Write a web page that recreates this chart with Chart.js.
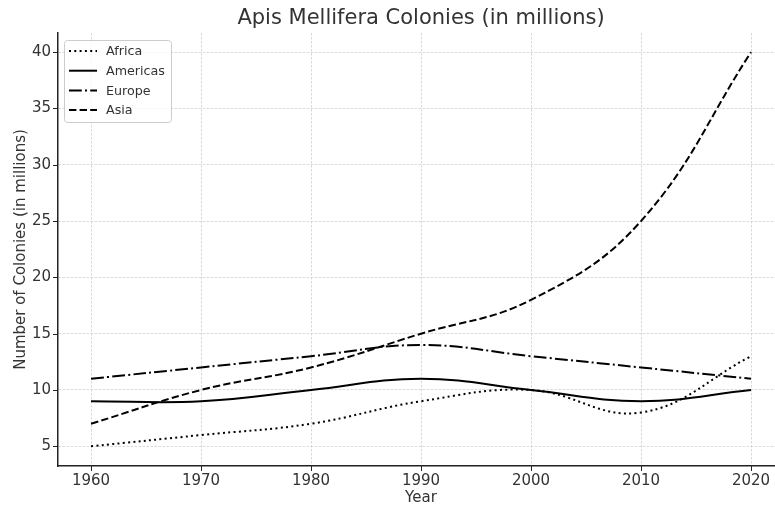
<!DOCTYPE html>
<html>
<head>
<meta charset="utf-8">
<script src="https://cdn.jsdelivr.net/npm/chart.js@4"></script>
<style>
  html, body { margin: 0; padding: 0; background: #fff; overflow: hidden; }
  #wrap { width: 786px; height: 506px; }
</style>
</head>
<body>
<div id="wrap"><canvas id="beeChart" width="786" height="506"></canvas></div>
<script>
var years = [1960, 1970, 1980, 1990, 2000, 2010, 2020];
var africa = [5, 6, 7, 9, 10, 8, 13];
var americas = [9, 9, 10, 11, 10, 9, 10];
var europe = [11, 12, 13, 14, 13, 12, 11];
var asia = [7, 10, 12, 15, 18, 25, 40];
var xTicks = [1960, 1970, 1980, 1990, 2000, 2010, 2020];
var yTicks = [5, 10, 15, 20, 25, 30, 35, 40];

var FONT = "'DejaVu Sans', sans-serif";

function pts(vals) {
    return years.map(function (y, i) { return {x: y, y: vals[i]}; });
}

function series(label, vals, dash) {
    return {
        label: label,
        data: pts(vals),
        borderColor: "#000",
        borderWidth: 2,
        borderDash: dash,
        pointRadius: 0,
        fill: false,
        tension: 0.4
    };
}

// title, solid tick marks and the in-plot legend box
var decor = {
    id: 'decor',
    afterDraw: function (chart) {
        var c = chart.ctx, a = chart.chartArea;
        var sx = chart.scales.x, sy = chart.scales.y;
        c.save();
        c.fillStyle = "#333";
        c.font = "21px " + FONT;
        c.textAlign = "center";
        c.textBaseline = "middle";
        c.fillText("Apis Mellifera Colonies (in millions)", (a.left + a.right) / 2, 19);

        c.strokeStyle = "#222";
        c.lineWidth = 1;
        c.beginPath();
        xTicks.forEach(function (v) {
            var px = Math.round(sx.getPixelForValue(v)) + 0.5;
            c.moveTo(px, a.bottom);
            c.lineTo(px, a.bottom + 5);
        });
        yTicks.forEach(function (v) {
            var py = Math.round(sy.getPixelForValue(v)) + 0.5;
            c.moveTo(a.left, py);
            c.lineTo(a.left - 5, py);
        });
        c.stroke();

        var bx = 64.5, by = 40.5, bw = 107, bh = 82;
        c.beginPath();
        c.roundRect(bx, by, bw, bh, 3);
        c.fillStyle = "rgba(255,255,255,0.8)";
        c.fill();
        c.strokeStyle = "#ccc";
        c.lineWidth = 1;
        c.stroke();

        c.font = "12.7px " + FONT;
        c.textAlign = "left";
        chart.data.datasets.forEach(function (ds, i) {
            var ly = 51 + i * 19.7;
            c.beginPath();
            c.setLineDash(ds.borderDash || []);
            c.strokeStyle = "#000";
            c.lineWidth = 2;
            c.moveTo(69, ly);
            c.lineTo(97, ly);
            c.stroke();
            c.setLineDash([]);
            c.fillStyle = "#333";
            c.fillText(ds.label, 106, ly + 1);
        });
        c.restore();
    }
};

var gridOpts = { color: "#cfcfcf", lineWidth: 0.8, tickLength: 5, tickColor: "rgba(0,0,0,0)" };

var ctx = document.getElementById('beeChart').getContext('2d');
var myChart = new Chart(ctx, {
    type: 'line',
    data: {
        datasets: [
            series("Africa", africa, [2, 3.3]),
            series("Americas", americas, []),
            series("Europe", europe, [12.8, 3.2, 2, 3.2]),
            series("Asia", asia, [7.4, 3.2])
        ]
    },
    options: {
        responsive: false,
        animation: false,
        layout: { padding: { top: 33, right: 2, left: 0, bottom: 0 } },
        plugins: {
            legend: { display: false },
            title: { display: false },
            tooltip: { enabled: false }
        },
        scales: {
            x: {
                type: 'linear',
                min: 1957,
                max: 2023,
                afterFit: function (s) { s.height = 40; },
                afterBuildTicks: function (s) { s.ticks = xTicks.map(function (v) { return {value: v}; }); },
                grid: gridOpts,
                border: { color: "#222", width: 1.5, dash: [2.5, 1.5] },
                ticks: { color: "#333", font: { family: FONT, size: 15 }, padding: 1, maxRotation: 0,
                         callback: function (v) { return String(v); } },
                title: { display: true, text: "Year", color: "#333",
                         font: { family: FONT, size: 15, lineHeight: 1.0 },
                         padding: { top: 0, bottom: 0 } }
            },
            y: {
                min: 3.25,
                max: 41.7,
                afterFit: function (s) { s.width = 58; },
                afterBuildTicks: function (s) { s.ticks = yTicks.map(function (v) { return {value: v}; }); },
                grid: gridOpts,
                border: { color: "#222", width: 1.5, dash: [2.5, 1.5] },
                ticks: { color: "#333", font: { family: FONT, size: 15 }, padding: 2 },
                title: { display: true, text: "Number of Colonies (in millions)", color: "#333",
                         font: { family: FONT, size: 15 }, padding: { top: 12, bottom: 0 } }
            }
        }
    },
    plugins: [decor]
});
</script>
</body>
</html>
